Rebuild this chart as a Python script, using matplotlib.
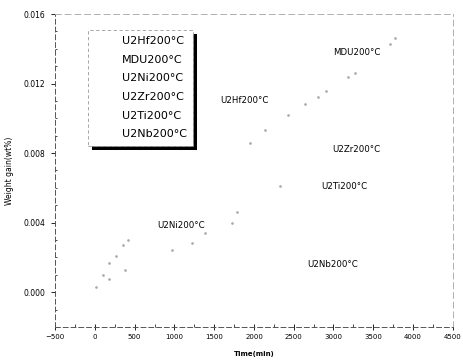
import matplotlib.pyplot as plt
from matplotlib.ticker import MultipleLocator, FormatStrFormatter
from matplotlib.lines import Line2D
from matplotlib.patches import Rectangle
from matplotlib.transforms import IdentityTransform

# series names (legend order)
series = ['U2Hf200°C', 'MDU200°C', 'U2Ni200°C', 'U2Zr200°C', 'U2Ti200°C', 'U2Nb200°C']

# faint points that survive in the scan (time in min, weight gain in wt%)
mdu_t = [1947, 2136, 2425, 2638, 2800, 2902, 3178, 3266, 3706, 3769]
mdu_w = [0.0086, 0.0093, 0.0102, 0.0108, 0.0112, 0.0116, 0.0124, 0.0126, 0.0143, 0.0146]
ni_t = [13, 100, 176, 264, 352, 415]
ni_w = [0.0003, 0.0010, 0.0017, 0.0021, 0.0027, 0.0030]
ti_t = [176, 377, 967, 1219, 1382, 1721, 1784, 2324]
ti_w = [0.00075, 0.0013, 0.0024, 0.0028, 0.0034, 0.0040, 0.0046, 0.0061]

# curve labels written on the plot
label_t = [1570, 2990, 779, 2990, 2852, 2676]
label_w = [0.01105, 0.01381, 0.00386, 0.00823, 0.0061, 0.00161]

fig = plt.figure(figsize=(4.63, 3.6), dpi=100)
ax = fig.add_axes([0.119, 0.092, 0.859, 0.869])

for t, w in [(mdu_t, mdu_w), (ni_t, ni_w), (ti_t, ti_w)]:
    ax.plot(t, w, linestyle='none', marker='.', ms=1.8, color='#a8a8a8')

for name, t, w in zip(series, label_t, label_w):
    ax.text(t, w, name, fontsize=6.2, ha='left', va='center')

ax.set_xlim(-500, 4500)
ax.set_ylim(-0.002, 0.016)
ax.xaxis.set_major_locator(MultipleLocator(500))
ax.xaxis.set_minor_locator(MultipleLocator(250))
ax.yaxis.set_major_locator(MultipleLocator(0.004))
ax.yaxis.set_minor_locator(MultipleLocator(0.001))
ax.yaxis.set_major_formatter(FormatStrFormatter('%.3f'))
ax.tick_params(axis='x', which='major', direction='inout', length=4, width=0.6,
               labelsize=5, pad=3)
ax.tick_params(axis='x', which='minor', direction='in', length=2, width=0.5)
ax.tick_params(axis='y', which='major', direction='out', length=3, width=0.6,
               labelsize=5.5, pad=4)
ax.tick_params(axis='y', which='minor', direction='in', length=1.5, width=0.5)

for side in ['left', 'bottom']:
    ax.spines[side].set_linestyle((0, (5, 3)))
    ax.spines[side].set_color('#555555')
    ax.spines[side].set_linewidth(0.7)
for side in ['top', 'right']:
    ax.spines[side].set_linestyle((0, (6, 4)))
    ax.spines[side].set_color('#b0b0b0')
    ax.spines[side].set_linewidth(0.7)

ax.set_xlabel('Time(min)', fontsize=5, fontweight='bold', labelpad=8)
ax.set_ylabel('Weight gain(wt%)', fontsize=5.5, labelpad=7)

handles = [Line2D([], [], linestyle='none') for _ in series]
leg = ax.legend(handles, series, loc='upper left', bbox_to_anchor=(0.083, 0.949),
                borderaxespad=0, fontsize=8, handlelength=2.2, handletextpad=0.3,
                labelspacing=0.78, fancybox=False, borderpad=0.55, framealpha=1)
leg.get_frame().set_edgecolor('#999999')
leg.get_frame().set_linewidth(0.6)
leg.get_frame().set_linestyle((0, (4, 3)))

# heavy black drop shadow of the legend box
fig.canvas.draw()
bb = leg.get_window_extent()
shadow = Rectangle((bb.x0 + 4, bb.y0 - 4), bb.width, bb.height, facecolor='black',
                   edgecolor='none', transform=IdentityTransform(), zorder=4.9,
                   clip_on=False)
ax.add_patch(shadow)

fig.savefig('out.png', dpi=100)
